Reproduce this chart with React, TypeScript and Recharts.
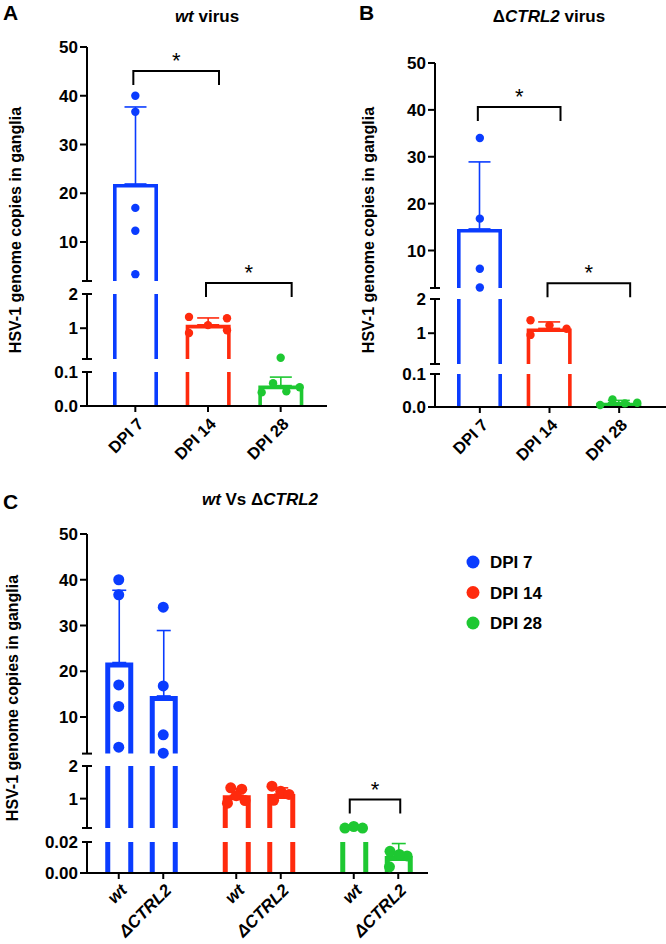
import React from 'react';
import { ComposedChart, Bar, Scatter, ErrorBar, XAxis, YAxis, ReferenceLine } from 'recharts';

const FONT = '"Liberation Sans", Arial, Helvetica, sans-serif';
const INK = '#000000';
const COLORS = ['#0a3cff', '#ff2a0d', '#1ec832'];

// ---------- categories / labels ----------
const DPI = ['DPI 7', 'DPI 14', 'DPI 28'];
const VIRUS = ['wt', 'ΔCTRL2'];
const LEGEND_LABELS = ['DPI 7', 'DPI 14', 'DPI 28'];

// ---------- Panel A : wt virus ----------
const A_DPI7 = [40, 36.7, 17, 12.3, 3.4];
const A_DPI14 = [1.33, 1.29, 1.09, 0.86, 0.94];
const A_DPI28 = [0.135, 0.067, 0.04, 0.043, 0.055];
const A_MEAN = [21.9, 1.1, 0.06];
const A_SD = [15.8, 0.2, 0.025];
const A_JIT7 = [0, 0, 0, 0, 0];
const A_JIT14 = [-1, 1, 0, -1, 1];
const A_JIT28 = [0, -0.4, -1, 0.3, 1];

// ---------- Panel B : ΔCTRL2 virus ----------
const B_DPI7 = [34, 16.8, 6.1, 2.1];
const B_DPI14 = [1.38, 1.23, 1.13, 0.95];
const B_DPI28 = [0.006, 0.023, 0.011, 0.013];
const B_MEAN = [14.6, 1.14, 0.013];
const B_SD = [14.3, 0.19, 0.007];
const B_JIT7 = [0, 0, 0, 0];
const B_JIT14 = [-1, 0, 0.9, -1];
const B_JIT28 = [-1, -0.35, 0.3, 0.95];

// ---------- Panel C : wt vs ΔCTRL2 ----------
const C_WT28 = [0.029, 0.03, 0.029];
const C_D28 = [0.014, 0.011, 0.004, 0.012];
const C_WT_MEAN = [21.9, 1.1, 0.029];
const C_WT_SD = [15.8, 0.2, 0];
const C_D_MEAN = [14.6, 1.14, 0.011];
const C_D_SD = [14.3, 0.19, 0.008];
const C_JWT7 = [0, 0, 0, 0, 0];
const C_JWT14 = [-0.5, 0.5, 0, -0.8, 0.8];
const C_JWT28 = [-0.8, 0, 0.8];
const C_JD7 = [0, 0, 0, 0];
const C_JD14 = [-0.8, 0, 0.75, -0.65];
const C_JD28 = [-0.75, 0.8, -0.8, 0.1];

// ---------- broken y-axis segments (bottom -> top) ----------
const AB_DOMAINS = [[0, 0.1], [0.1, 2], [2, 50]];
const C_DOMAINS = [[0, 0.02], [0.1, 2], [2, 50]];
const AB_TICKS = [[0, 0.1], [0.1, 1, 2], [2, 10, 20, 30, 40, 50]];
const AB_TICK_LABELS = [['0.0', '0.1'], ['', '1', '2'], ['', '10', '20', '30', '40', '50']];
const C_TICKS = [[0, 0.02], [0.1, 1, 2], [2, 10, 20, 30, 40, 50]];
const C_TICK_LABELS = [['0.00', '0.02'], ['', '1', '2'], ['', '10', '20', '30', '40', '50']];

// ---------- significance brackets ----------
const A_BRACKETS = [
  { seg: 2, from: 'DPI 7', to: 'DPI 14', y: 45.1 },
  { seg: 1, from: 'DPI 14', to: 'DPI 28', y: 2.32 },
];
const B_BRACKETS = [
  { seg: 2, from: 'DPI 7', to: 'DPI 14', y: 40.6 },
  { seg: 1, from: 'DPI 14', to: 'DPI 28', y: 2.46 },
];
const C_BRACKETS = [{ seg: 1, from: 'DPI 28', to: 'DPI 28', y: 0.97 }];

// ---------- layout ----------
const YW = 60;
const XH = 60;
const LAYOUT_A = { left: 0, top: 0, width: 330, height: 470, axisX: 87, plotRight: 327, padL: 12, padR: 10, ys: [[406, 372], [359, 294], [281, 47]] };
const LAYOUT_B = { left: 330, top: 0, width: 336, height: 470, axisX: 105, plotRight: 336, padL: 10, padR: 12, ys: [[407, 374], [364, 299], [288, 63]] };
const LAYOUT_C = { left: 0, top: 470, width: 666, height: 474, axisX: 87, plotRight: 428, padL: -4.75, padR: -6.75, ys: [[403, 372], [358, 296], [283.6, 64]] };

const C_BAR = 28;
const C_GAP = 16.5;
const C_OFF = (C_BAR + C_GAP) / 2;

const segOf = (v: number, domains: number[][]) => {
  let k = 0;
  domains.forEach((d, i) => {
    if (v >= d[0]) k = i;
  });
  return k;
};
const clamp = (v: number, lo: number, hi: number) => Math.min(hi, Math.max(lo, v));

function makeBarShape(sw: number, capKey: string) {
  return (p: any) => {
    const { x, y, width, height } = p;
    const row = p.payload || {};
    if (!(height > 0.5) || !isFinite(x)) return <g />;
    const color = COLORS[row.ci];
    const l = x + sw / 2;
    const r = x + width - sw / 2;
    const b = y + height;
    const t = y + sw / 2;
    const d = row[capKey]
      ? `M${l},${b}L${l},${t}L${r},${t}L${r},${b}`
      : `M${l},${b}L${l},${y}M${r},${y}L${r},${b}`;
    return <path d={d} fill="none" stroke={color} strokeWidth={sw} />;
  };
}

function makeDot(r: number, jit: number, off: number) {
  return (p: any) => {
    const row = p.payload || {};
    const cx = p.cx + (row.side || 0) * off + (row.j || 0) * jit;
    return <circle cx={cx} cy={p.cy} r={r} fill={COLORS[row.ci]} />;
  };
}

function makeBracket(dxL: number, dxR: number) {
  return (p: any) => {
    const l = p.x1 + dxL;
    const r = p.x2 + dxR;
    const y = p.y1;
    return (
      <g>
        <path d={`M${l},${y + 14}L${l},${y}L${r},${y}L${r},${y + 14}`} fill="none" stroke={INK} strokeWidth={2} />
        <text x={(l + r) / 2} y={y - 3} textAnchor="middle" fontFamily={FONT} fontSize={22} fill={INK}>*</text>
      </g>
    );
  };
}

function makeYTick(ax: number, vals: number[], labels: string[], caps: number[]) {
  return (p: any) => {
    const v = p.payload ? p.payload.value : null;
    const y = p.y;
    const k = vals.indexOf(v);
    const isCap = caps.indexOf(v) >= 0;
    return (
      <g>
        <line x1={isCap ? ax - 5 : ax - 7} x2={isCap ? ax + 5 : ax} y1={y} y2={y} stroke={INK} strokeWidth={2} />
        {k >= 0 && labels[k] ? (
          <text x={ax - 9} y={y} dy="0.36em" textAnchor="end" fontFamily={FONT} fontWeight="bold" fontSize={17} fill={INK}>
            {labels[k]}
          </text>
        ) : null}
      </g>
    );
  };
}

const CatTick = (p: any) => (
  <text
    transform={`translate(${p.x + 5},${p.y + 7}) rotate(-45)`}
    textAnchor="end"
    dy="0.35em"
    fontFamily={FONT}
    fontWeight="bold"
    fontSize={16.5}
    fill={INK}
  >
    {p.payload.value}
  </text>
);

const GroupTick = (p: any) => {
  const ay = p.y - 8;
  return (
    <g>
      {[-1, 1].map((s, k) => (
        <g key={k}>
          <line x1={p.x + s * C_OFF} x2={p.x + s * C_OFF} y1={ay} y2={ay + 6} stroke={INK} strokeWidth={2} />
          <text
            transform={`translate(${p.x + s * C_OFF + 5},${ay + 14}) rotate(-45)`}
            textAnchor="end"
            dy="0.35em"
            fontFamily={FONT}
            fontWeight="bold"
            fontStyle="italic"
            fontSize={17}
            fill={INK}
          >
            {VIRUS[k]}
          </text>
        </g>
      ))}
    </g>
  );
};

function capsFor(si: number, dom: number[]) {
  const c: number[] = [];
  if (si > 0) c.push(dom[0]);
  if (si < 2) c.push(dom[1]);
  return c;
}

function SimplePanel(props: any) {
  const { L, means, sds, groups, jits, brackets } = props;
  return (
    <div style={{ position: 'absolute', left: L.left, top: L.top, width: L.width, height: L.height }}>
      {AB_DOMAINS.map((dom, si) => {
        const [lo, hi] = dom;
        const [yB, yT] = L.ys[si];
        const isBottom = si === 0;
        const margin = { top: yT, bottom: L.height - yB - (isBottom ? XH : 0), left: L.axisX - YW, right: L.width - L.plotRight };
        const rows = DPI.map((name, ci) => {
          const m = means[ci];
          const inside = m >= lo && m <= hi;
          const row: any = { name, ci, v: clamp(m, lo, hi), cap: inside };
          if (inside && sds[ci] > 0) row['e' + ci] = [0, sds[ci]];
          return row;
        });
        const pts: any[] = [];
        groups.forEach((g: number[], ci: number) =>
          g.forEach((v, k) => {
            if (segOf(v, AB_DOMAINS) === si) pts.push({ name: DPI[ci], y: v, ci, j: jits[ci][k] });
          })
        );
        return (
          <div key={si} style={{ position: 'absolute', left: 0, top: 0 }}>
            <ComposedChart width={L.width} height={L.height} margin={margin} data={rows}>
              <XAxis
                dataKey="name"
                type="category"
                allowDuplicatedCategory={false}
                hide={!isBottom}
                height={XH}
                padding={{ left: L.padL, right: L.padR }}
                interval={0}
                tickSize={6}
                tickMargin={2}
                axisLine={{ stroke: INK, strokeWidth: 2 }}
                tickLine={{ stroke: INK, strokeWidth: 2 }}
                tick={CatTick}
              />
              <YAxis
                type="number"
                domain={[lo, hi]}
                allowDataOverflow
                ticks={AB_TICKS[si]}
                interval={0}
                width={YW}
                axisLine={{ stroke: INK, strokeWidth: 2 }}
                tickLine={false}
                tick={makeYTick(YW + margin.left, AB_TICKS[si], AB_TICK_LABELS[si], capsFor(si, dom))}
              />
              <Bar dataKey="v" barSize={45} shape={makeBarShape(3.6, 'cap')} isAnimationActive={false}>
                {COLORS.map((c, i) => (
                  <ErrorBar key={i} dataKey={'e' + i} direction="y" width={11} stroke={c} strokeWidth={1.6} isAnimationActive={false} />
                ))}
              </Bar>
              <Scatter data={pts} dataKey="y" shape={makeDot(4.2, 19, 0)} isAnimationActive={false} />
              {brackets
                .filter((b: any) => b.seg === si)
                .map((b: any, i: number) => (
                  <ReferenceLine
                    key={i}
                    segment={[{ x: b.from, y: b.y }, { x: b.to, y: b.y }]}
                    ifOverflow="visible"
                    shape={makeBracket(-2, 11)}
                  />
                ))}
            </ComposedChart>
          </div>
        );
      })}
    </div>
  );
}

function GroupedPanel() {
  const L = LAYOUT_C;
  const series = [
    { key: 'w', means: C_WT_MEAN, sds: C_WT_SD, groups: [A_DPI7, A_DPI14, C_WT28], jits: [C_JWT7, C_JWT14, C_JWT28], side: -1 },
    { key: 'd', means: C_D_MEAN, sds: C_D_SD, groups: [B_DPI7, B_DPI14, C_D28], jits: [C_JD7, C_JD14, C_JD28], side: 1 },
  ];
  return (
    <div style={{ position: 'absolute', left: L.left, top: L.top, width: L.width, height: L.height }}>
      {C_DOMAINS.map((dom, si) => {
        const [lo, hi] = dom;
        const [yB, yT] = L.ys[si];
        const isBottom = si === 0;
        const margin = { top: yT, bottom: L.height - yB - (isBottom ? XH : 0), left: L.axisX - YW, right: L.width - L.plotRight };
        const rows = DPI.map((name, ci) => {
          const row: any = { name, ci };
          series.forEach((s) => {
            const m = s.means[ci];
            const inside = m >= lo && m <= hi;
            row[s.key] = clamp(m, lo, hi);
            row[s.key + 'Cap'] = inside;
            if (inside && s.sds[ci] > 0) row[s.key + 'e' + ci] = [0, s.sds[ci]];
          });
          return row;
        });
        const pts: any[] = [];
        series.forEach((s) =>
          s.groups.forEach((g: number[], ci: number) =>
            g.forEach((v, k) => {
              if (segOf(v, C_DOMAINS) === si) pts.push({ name: DPI[ci], y: v, ci, j: s.jits[ci][k], side: s.side });
            })
          )
        );
        return (
          <div key={si} style={{ position: 'absolute', left: 0, top: 0 }}>
            <ComposedChart width={L.width} height={L.height} margin={margin} data={rows} barGap={C_GAP}>
              <XAxis
                dataKey="name"
                type="category"
                allowDuplicatedCategory={false}
                hide={!isBottom}
                height={XH}
                padding={{ left: L.padL, right: L.padR }}
                interval={0}
                tickSize={6}
                tickMargin={2}
                axisLine={{ stroke: INK, strokeWidth: 2 }}
                tickLine={false}
                tick={GroupTick}
              />
              <YAxis
                type="number"
                domain={[lo, hi]}
                allowDataOverflow
                ticks={C_TICKS[si]}
                interval={0}
                width={YW}
                axisLine={{ stroke: INK, strokeWidth: 2 }}
                tickLine={false}
                tick={makeYTick(YW + margin.left, C_TICKS[si], C_TICK_LABELS[si], capsFor(si, dom))}
              />
              {series.map((s) => (
                <Bar key={s.key} dataKey={s.key} barSize={C_BAR} shape={makeBarShape(5, s.key + 'Cap')} isAnimationActive={false}>
                  {COLORS.map((c, i) => (
                    <ErrorBar key={i} dataKey={s.key + 'e' + i} direction="y" width={7} stroke={c} strokeWidth={1.6} isAnimationActive={false} />
                  ))}
                </Bar>
              ))}
              <Scatter data={pts} dataKey="y" shape={makeDot(5.5, 11, C_OFF)} isAnimationActive={false} />
              {C_BRACKETS.filter((b) => b.seg === si).map((b, i) => (
                <ReferenceLine
                  key={i}
                  segment={[{ x: b.from, y: b.y }, { x: b.to, y: b.y }]}
                  ifOverflow="visible"
                  shape={makeBracket(-C_OFF - 4, C_OFF + 2)}
                />
              ))}
            </ComposedChart>
          </div>
        );
      })}
    </div>
  );
}

function Annotations() {
  const t = { fontFamily: FONT, fontWeight: 'bold' as const, fill: INK };
  const ylab = 'HSV-1 genome copies in ganglia';
  return (
    <svg width={666} height={944} style={{ position: 'absolute', left: 0, top: 0 }}>
      <text x={3} y={20} fontSize={21} {...t}>A</text>
      <text x={359} y={20} fontSize={21} {...t}>B</text>
      <text x={3} y={509} fontSize={21} {...t}>C</text>
      <text x={207} y={22} fontSize={17} textAnchor="middle" {...t}>
        <tspan fontStyle="italic">wt</tspan> virus
      </text>
      <text x={549} y={22} fontSize={17} textAnchor="middle" {...t}>
        Δ<tspan fontStyle="italic">CTRL2</tspan> virus
      </text>
      <text x={260} y={505} fontSize={17} textAnchor="middle" {...t}>
        <tspan fontStyle="italic">wt</tspan> Vs Δ<tspan fontStyle="italic">CTRL2</tspan>
      </text>
      <text transform="translate(15,230) rotate(-90)" textAnchor="middle" dy="0.35em" fontSize={16} {...t}>{ylab}</text>
      <text transform="translate(368,230) rotate(-90)" textAnchor="middle" dy="0.35em" fontSize={16} {...t}>{ylab}</text>
      <text transform="translate(12,698) rotate(-90)" textAnchor="middle" dy="0.35em" fontSize={16} {...t}>{ylab}</text>
      {LEGEND_LABELS.map((lab, i) => (
        <g key={lab}>
          <circle cx={473} cy={562 + i * 30.5} r={6.5} fill={COLORS[i]} />
          <text x={490} y={562 + i * 30.5} dy="0.36em" fontSize={17} {...t}>{lab}</text>
        </g>
      ))}
    </svg>
  );
}

export default function App() {
  return (
    <div style={{ position: 'absolute', left: 0, top: 0, width: 666, height: 944, background: '#ffffff', overflow: 'hidden' }}>
      <style>{'.recharts-surface g[clip-path]{clip-path:none !important;}'}</style>
      <Annotations />
      <SimplePanel L={LAYOUT_A} means={A_MEAN} sds={A_SD} groups={[A_DPI7, A_DPI14, A_DPI28]} jits={[A_JIT7, A_JIT14, A_JIT28]} brackets={A_BRACKETS} />
      <SimplePanel L={LAYOUT_B} means={B_MEAN} sds={B_SD} groups={[B_DPI7, B_DPI14, B_DPI28]} jits={[B_JIT7, B_JIT14, B_JIT28]} brackets={B_BRACKETS} />
      <GroupedPanel />
    </div>
  );
}
